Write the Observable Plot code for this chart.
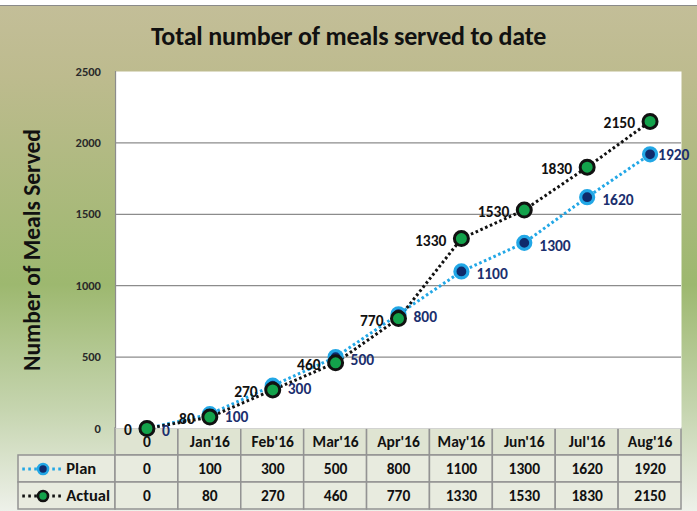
<!DOCTYPE html>
<html>
<head>
<meta charset="utf-8">
<script src="https://cdn.jsdelivr.net/npm/d3@7"></script>
<script src="https://cdn.jsdelivr.net/npm/@observablehq/plot@0.6"></script>
<style>
  html, body { margin: 0; padding: 0; background: #fff; }
  #wrap {
    position: relative; width: 697px; height: 511px; overflow: hidden;
    font-family: Carlito, Calibri, Lato, "Open Sans", sans-serif;
  }
  #bg {
    position: absolute; left: 0; top: 5px; width: 697px; height: 506px;
    border-top: 1.5px solid #8a8a8a;
    background: linear-gradient(to bottom, #c3be98 0%, #bdbb8e 14%, #9db86f 55%, #c6d5b0 80%, #eef1ea 100%);
  }
  #title {
    position: absolute; left: 0; width: 697px; top: 20px; text-align: center;
    font-weight: bold; font-size: 26px; color: #111; letter-spacing: -0.2px;
  }
  #ytitle {
    position: absolute; left: 32px; top: 250px; transform: translate(-50%, -50%) rotate(-90deg);
    white-space: nowrap; font-weight: bold; font-size: 23.5px; color: #111;
  }
  .layer { position: absolute; left: 0; top: 0; }
  svg { overflow: visible; }
</style>
</head>
<body>
<div id="wrap">
  <div id="bg"></div>
  <div id="title">Total number of meals served to date</div>
  <div id="ytitle">Number of Meals Served</div>
  <div id="table" class="layer" style="top:428px"></div>
  <div id="chart" class="layer"></div>
</div>
<script>
const categories = ["0", "Jan'16", "Feb'16", "Mar'16", "Apr'16", "May'16", "Jun'16", "Jul'16", "Aug'16"];
const plan   = [0, 100, 300, 500, 800, 1100, 1300, 1620, 1920];
const actual = [0, 80, 270, 460, 770, 1330, 1530, 1830, 2150];
const yTicks = [0, 500, 1000, 1500, 2000, 2500];
const seriesNames = ["Plan", "Actual"];

const font = "Carlito, Calibri, Lato, 'Open Sans', sans-serif";
const planColor = "#22a7e6", planFill = "#0f2a6b", planText = "#1b2f6e";
const actColor = "#111111", actFill = "#13a24b";

const planData = categories.map((c, i) => ({cat: c, i, v: plan[i]}));
const actData = categories.map((c, i) => ({cat: c, i, v: actual[i]}));
const lastIdx = categories.length - 1;

const W = 697, H = 511;
const chart = Plot.plot({
  width: W, height: H,
  marginLeft: 115, marginRight: 16, marginTop: 71, marginBottom: 83,
  style: {background: "transparent", fontFamily: font, overflow: "visible"},
  x: {type: "band", domain: categories, padding: 0, round: false, axis: null},
  y: {domain: [0, 2500], ticks: yTicks, axis: null},
  marks: [
    Plot.frame({fill: "white", stroke: null}),
    Plot.ruleY(yTicks.filter(d => d > 0 && d < 2500), {stroke: "#8c8c8c", strokeWidth: 1.2}),
    Plot.ruleX([0], {x: () => categories[0], y1: 0, y2: 2500, stroke: "#8c8c8c", strokeWidth: 1.2, dx: -31.4}),
    Plot.text(yTicks, {x: () => categories[0], y: d => d, text: d => String(d), textAnchor: "end", dx: -46, fontWeight: "bold", fontSize: 12.5, fill: "#2a2a2a"}),
    Plot.line(planData, {x: "cat", y: "v", stroke: planColor, strokeWidth: 3, strokeDasharray: "2.6,2.6", strokeLinecap: "butt"}),
    Plot.line(actData, {x: "cat", y: "v", stroke: actColor, strokeWidth: 3, strokeDasharray: "2.6,2.6", strokeLinecap: "butt"}),
    Plot.dot(planData, {x: "cat", y: "v", r: 6.5, fill: planFill, stroke: planColor, strokeWidth: 3.2}),
    Plot.dot(actData, {x: "cat", y: "v", r: 7, fill: actFill, stroke: actColor, strokeWidth: 3}),
    Plot.text(planData.filter(d => d.i !== lastIdx), {x: "cat", y: "v", text: d => String(d.v), textAnchor: "start", dx: 15, dy: 3, fontWeight: "bold", fontSize: 15.5, fill: planText}),
    Plot.text(planData.filter(d => d.i === lastIdx), {x: "cat", y: "v", text: d => String(d.v), textAnchor: "start", dx: 8, dy: 1, fontWeight: "bold", fontSize: 15.5, fill: planText}),
    Plot.text(actData, {x: "cat", y: "v", text: d => String(d.v), textAnchor: "end", dx: -15, dy: 2, fontWeight: "bold", fontSize: 15.5, fill: "#111"})
  ]
});
document.getElementById("chart").appendChild(chart);

// Data table drawn below the plot, aligned with the category columns
const legendW = 97 / (566 / categories.length);
const cells = [];
categories.forEach((c, i) => cells.push({x1: i, x2: i + 1, row: 0, text: c}));
[plan, actual].forEach((arr, r) => {
  cells.push({x1: -legendW, x2: 0, row: r + 1, text: ""});
  arr.forEach((v, i) => cells.push({x1: i, x2: i + 1, row: r + 1, text: String(v)}));
});
const legendItems = seriesNames.map((s, r) => ({name: s, row: r + 1}));

const table = Plot.plot({
  width: W, height: 83,
  marginLeft: 18, marginRight: 16, marginTop: 0, marginBottom: 2,
  style: {background: "transparent", fontFamily: font, overflow: "visible"},
  x: {type: "linear", domain: [-legendW, categories.length], axis: null},
  y: {type: "linear", domain: [0, 3], reverse: true, axis: null},
  marks: [
    Plot.rect(cells, {x1: "x1", x2: "x2", y1: "row", y2: d => d.row + 1,
      fill: d => d.row === 0 ? "#dfe4d2" : "#e8ebdf", stroke: "#939393", strokeWidth: 1.5}),
    Plot.text(cells, {x: d => (d.x1 + d.x2) / 2, y: d => d.row + 0.5, text: "text",
      fontWeight: "bold", fontSize: 15.5, fill: "#111"}),
    // legend samples
    Plot.link(legendItems, {x1: -legendW + 0.06, x2: -legendW + 0.72, y1: d => d.row + 0.5, y2: d => d.row + 0.5,
      stroke: (d) => d.name === "Plan" ? planColor : actColor, strokeWidth: 2.8, strokeDasharray: "2.6,3.4", strokeLinecap: "butt"}),
    Plot.dot(legendItems, {x: -legendW + 0.39, y: d => d.row + 0.5, r: 5,
      fill: d => d.name === "Plan" ? planFill : actFill,
      stroke: d => d.name === "Plan" ? planColor : actColor, strokeWidth: 2.6}),
    Plot.text(legendItems, {x: -legendW + 0.76, y: d => d.row + 0.5, text: "name", textAnchor: "start",
      fontWeight: "bold", fontSize: 16.5, fill: "#111"})
  ]
});
document.getElementById("table").appendChild(table);
</script>
</body>
</html>
